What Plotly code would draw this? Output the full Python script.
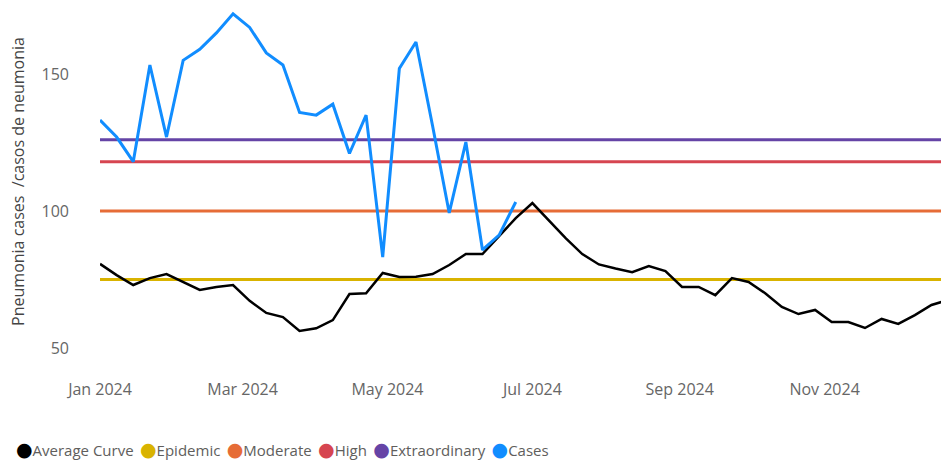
import pandas as pd
import plotly.graph_objects as go

dates = pd.date_range("2024-01-01", periods=52, freq="7D")

average_curve = [80.7, 76.6, 73.0, 75.5, 77.0, 74.0, 71.2, 72.3, 73.0, 67.2,
                 62.8, 61.3, 56.2, 57.2, 60.2, 69.7, 70.0, 77.4, 75.9, 76.0,
                 77.0, 80.3, 84.3, 84.3, 90.9, 97.4, 102.9, 96.4, 90.1, 84.3,
                 80.5, 79.0, 77.7, 79.9, 78.1, 72.3, 72.3, 69.3, 75.5, 74.1,
                 70.0, 65.0, 62.4, 63.9, 59.5, 59.5, 57.3, 60.6, 58.8, 62.0,
                 65.7, 67.5]

cases = [133.2, 127.0, 118.0, 153.3, 127.0, 155.0, 159.0, 165.0, 172.0, 167.0,
         157.7, 153.3, 136.0, 135.0, 139.0, 121.0, 135.0, 83.2, 152.0, 161.7,
         131.0, 99.3, 125.2, 85.8, 91.2, 103.3]

epidemic = 75
moderate = 100
high = 118
extraordinary = 126

tick_dates = ["2024-01-01", "2024-03-01", "2024-05-01", "2024-07-01", "2024-09-01", "2024-11-01"]
tick_labels = ["Jan 2024", "Mar 2024", "May 2024", "Jul 2024", "Sep 2024", "Nov 2024"]
y_ticks = [50, 100, 150]

series_names = ["Average Curve", "Epidemic", "Moderate", "High", "Extraordinary", "Cases"]

FONT = "Segoe UI, Open Sans, sans-serif"
colors = {
    "Average Curve": "#000000",
    "Epidemic": "#D9B300",
    "Moderate": "#E66C37",
    "High": "#D64550",
    "Extraordinary": "#6544A6",
    "Cases": "#118DFF",
}

fig = go.Figure()
n = len(dates)
for name, val in [("Epidemic", epidemic), ("Moderate", moderate), ("High", high), ("Extraordinary", extraordinary)]:
    fig.add_trace(go.Scatter(x=dates, y=[val] * n, mode="lines", name=name,
                             line=dict(color=colors[name], width=3)))
fig.add_trace(go.Scatter(x=dates, y=average_curve, mode="lines", name="Average Curve",
                         line=dict(color=colors["Average Curve"], width=2.5)))
fig.add_trace(go.Scatter(x=dates[:len(cases)], y=cases, mode="lines", name="Cases",
                         line=dict(color=colors["Cases"], width=3)))

# compact legend as a single text line
legend_text = " \u2009".join(
    f"<span style='color:{colors[nm]};font-size:19px;font-family:DejaVu Sans'>●</span>{nm}"
    for nm in series_names
)

fig.update_layout(
    width=941, height=460,
    margin=dict(l=100, r=0, t=8, b=82, autoexpand=False),
    paper_bgcolor="white", plot_bgcolor="white",
    font=dict(family=FONT, size=16, color="#666666"),
    showlegend=False,
    xaxis=dict(range=["2024-01-01", "2024-12-20"], tickvals=tick_dates, ticktext=tick_labels,
               showgrid=False, zeroline=False, showline=False, ticks="", automargin=False,
               tickfont=dict(size=16, color="#666666")),
    yaxis=dict(range=[39.05, 174.1], tickvals=y_ticks, showgrid=False, zeroline=False,
               showline=False, ticks="", ticklabelstandoff=30, automargin=False,
               tickfont=dict(size=16, color="#666666")),
    annotations=[
        dict(text="Pneumonia cases  /casos de neumonia", textangle=-90,
             xref="paper", yref="paper", x=-0.0975, y=0.53,
             xanchor="center", yanchor="middle", showarrow=False,
             font=dict(size=16, color="#444444")),
        dict(text=legend_text, xref="paper", yref="paper",
             x=-0.1023, y=-0.192, xanchor="left", yanchor="middle", showarrow=False,
             font=dict(size=15, color="#605E5C")),
    ],
)

fig.write_html("out.html", config={"displayModeBar": False},
               post_script="document.body.style.margin='0';")
